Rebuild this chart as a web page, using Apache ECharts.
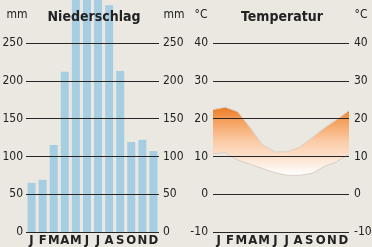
<!DOCTYPE html>
<html>
<head>
<meta charset="utf-8">
<script src="https://cdn.jsdelivr.net/npm/echarts@6/dist/echarts.min.js"></script>
<style>
  html, body { margin: 0; padding: 0; background: #ebe7e1; }
  #chart { width: 372px; height: 247px; }
</style>
</head>
<body>
<div id="chart"></div>
<script>
// Klimadiagramm: Niederschlag (Balken) + Temperatur (Band zwischen Min und Max)
const months = ['J', 'F', 'M', 'A', 'M', 'J', 'J', 'A', 'S', 'O', 'N', 'D'];
const precipitation = [65, 69, 115, 212, 330, 340, 335, 300, 213, 119, 122, 107];
const tempMax = [22.4, 23.0, 21.8, 17.6, 13.1, 11.2, 11.2, 12.4, 14.9, 17.5, 19.7, 22.1];
const tempMin = [10.7, 11.0, 9.0, 7.9, 6.8, 5.7, 5.0, 5.0, 5.5, 7.3, 8.6, 10.6];
const mmTicks = [0, 50, 100, 150, 200, 250];
const tempTicks = [-10, 0, 10, 20, 30, 40];

const narrow = '"Liberation Sans Narrow", "DejaVu Sans Condensed", sans-serif';
const ink = '#222';

function valueAxis(gridIndex, position, ticks, margin, withLines) {
    return {
        type: 'value',
        gridIndex: gridIndex,
        position: position,
        min: ticks[0],
        max: ticks[ticks.length - 1],
        interval: ticks[1] - ticks[0],
        z: 5,
        axisLine: { show: false },
        axisTick: { show: false },
        axisLabel: { color: ink, fontSize: 12, fontFamily: narrow, margin: margin },
        splitLine: { show: withLines, lineStyle: { color: '#262626', width: 1.2 } }
    };
}

function monthAxis(gridIndex, gap, showLabels) {
    return {
        type: 'category',
        gridIndex: gridIndex,
        data: months,
        boundaryGap: gap,
        axisLine: { show: false },
        axisTick: { show: false },
        splitLine: { show: false },
        axisLabel: {
            show: showLabels,
            interval: 0,
            color: ink,
            fontSize: 13,
            fontWeight: 'bold',
            fontFamily: narrow,
            margin: 2
        }
    };
}

function label(text, x, y, font) {
    return {
        type: 'text',
        x: x,
        y: y,
        z: 10,
        style: {
            text: text,
            fill: ink,
            font: font || ('12px ' + narrow),
            textAlign: 'center',
            textVerticalAlign: 'top'
        }
    };
}

const tempSpan = tempMax.map((v, i) => +(v - tempMin[i]).toFixed(1));

const chart = echarts.init(document.getElementById('chart'));

const option = {
    backgroundColor: '#ebe7e1',
    animation: false,
    grid: [
        { left: 26, right: 213, top: 43, bottom: 15, outerBoundsMode: 'none' },
        { left: 213, right: 23, top: 43, bottom: 15, outerBoundsMode: 'none' }
    ],
    xAxis: [
        monthAxis(0, true, true),
        monthAxis(1, true, true),
        monthAxis(1, false, false)
    ],
    yAxis: [
        valueAxis(0, 'left', mmTicks, 3, true),
        valueAxis(0, 'right', mmTicks, 4, false),
        valueAxis(1, 'left', tempTicks, 5, true),
        valueAxis(1, 'right', tempTicks, 5, false)
    ],
    graphic: [
        label('mm', 17, 9),
        label('Niederschlag', 94, 10, 'bold 14px ' + narrow),
        label('mm', 174, 9),
        label('°C', 201, 9),
        label('Temperatur', 282, 10, 'bold 14px ' + narrow),
        label('°C', 361, 9)
    ],
    series: [
        {
            name: 'Niederschlag',
            type: 'bar',
            xAxisIndex: 0,
            yAxisIndex: 0,
            data: precipitation,
            barWidth: 8,
            clip: false,
            itemStyle: { color: '#a6cee2' }
        },
        {
            name: 'Tmin',
            type: 'line',
            xAxisIndex: 2,
            yAxisIndex: 2,
            data: tempMin,
            stack: 'temp',
            symbol: 'none',
            lineStyle: { color: '#d8d0c7', width: 1 }
        },
        {
            name: 'Tmax',
            type: 'line',
            xAxisIndex: 2,
            yAxisIndex: 2,
            data: tempSpan,
            stack: 'temp',
            symbol: 'none',
            lineStyle: { color: '#d8d0c7', width: 1 },
            areaStyle: {
                opacity: 1,
                color: new echarts.graphic.LinearGradient(0, 0, 0, 1, [
                    { offset: 0, color: '#ec7a22' },
                    { offset: 0.2, color: '#f5a05e' },
                    { offset: 0.5, color: '#fbcba5' },
                    { offset: 0.75, color: '#fde4d0' },
                    { offset: 1, color: '#ffffff' }
                ])
            }
        }
    ]
};

chart.setOption(option);
</script>
</body>
</html>
